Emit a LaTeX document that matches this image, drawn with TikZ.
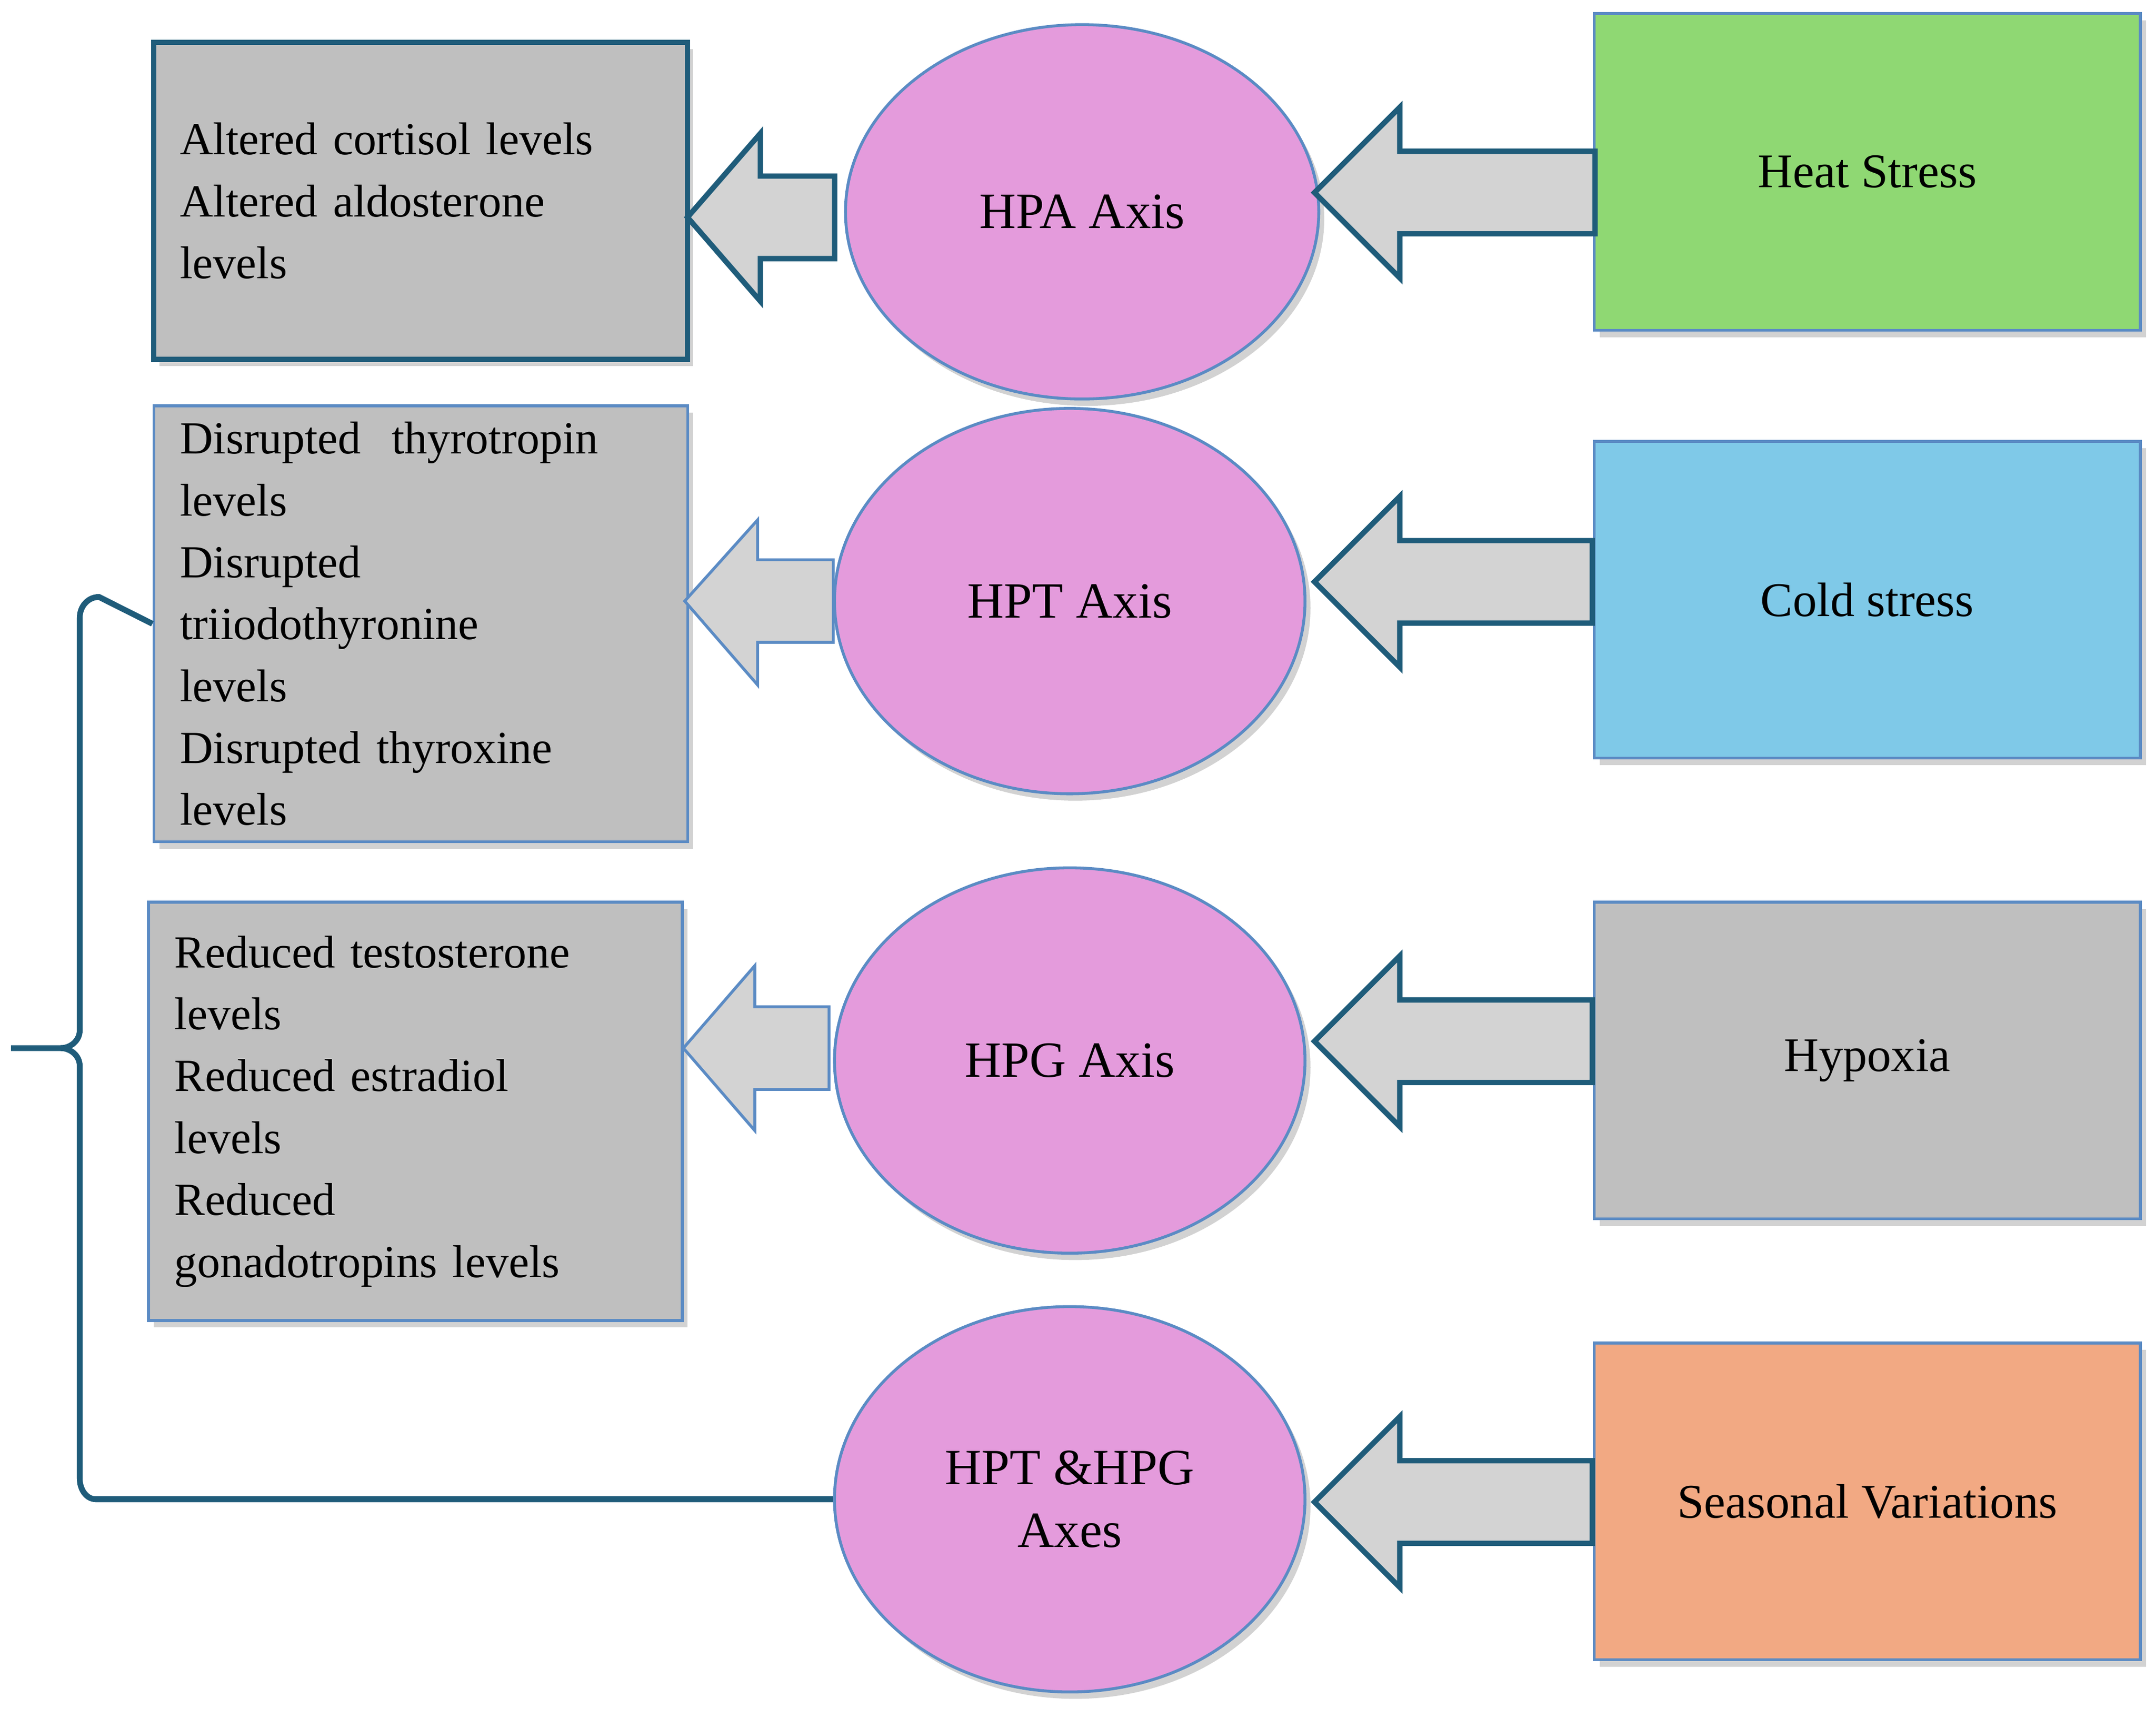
\documentclass[tikz,border=0pt]{standalone}
\usepackage{fontspec}
\setmainfont{Liberation Serif}
\usetikzlibrary{shadows,shapes.geometric}
\definecolor{edge}{HTML}{1F5C7A}
\definecolor{bl}{HTML}{5B8BC4}
\definecolor{boxg}{HTML}{BFBFBF}
\definecolor{arr}{HTML}{D3D3D3}
\definecolor{pink}{HTML}{E49BDC}
\definecolor{green}{HTML}{8FD873}
\definecolor{cyan}{HTML}{7FC9E8}
\definecolor{orng}{HTML}{F2A983}
\begin{document}
\begin{tikzpicture}[x=0.01cm,y=-0.01cm,
  sh/.style={drop shadow={shadow xshift=0.04cm,shadow yshift=-0.05cm,fill=black!35,opacity=0.5}},
  lbox/.style={draw=bl,line width=0.6pt,fill=boxg,sh,minimum width=3.88cm,text width=3.5cm,inner xsep=0.19cm,align=left,font=\fontsize{9.5}{12.8}\selectfont},
  rbox/.style={draw=bl,line width=0.6pt,sh,minimum width=3.97cm,minimum height=2.3cm,font=\fontsize{10}{12.8}\selectfont},
  ell/.style={ellipse,draw=bl,line width=0.6pt,fill=pink,sh,minimum width=3.42cm,minimum height=2.8cm,align=center,font=\fontsize{10.5}{13}\selectfont},
  barr/.style={draw=edge,line width=1.1pt,fill=arr,line join=miter}]
\useasboundingbox (0,0) rectangle (1568,1249);
% left boxes
\node[lbox,draw=edge,line width=1.1pt,minimum height=2.3cm] (o1) at (306,146) {Altered cortisol levels\\Altered aldosterone\\levels};
\node[lbox,minimum height=3.13cm] (o2) at (306,453.5) {Disrupted\ \ thyrotropin\\levels\\Disrupted\\triiodothyronine\\levels\\Disrupted thyroxine\\levels};
\node[lbox,minimum height=3.04cm] (o3) at (302,808) {Reduced testosterone\\levels\\Reduced estradiol\\levels\\Reduced\\gonadotropins levels};
% ellipses
\node[ell,minimum width=3.44cm,minimum height=2.72cm] (e1) at (787,154) {HPA Axis};
\node[ell] (e2) at (778,437) {HPT Axis};
\node[ell] (e3) at (778,771) {HPG Axis};
\node[ell] (e4) at (778,1090) {HPT \&HPG\\Axes};
% right boxes
\node[rbox,fill=green] (r1) at (1358,125) {Heat Stress};
\node[rbox,fill=cyan] (r2) at (1358,436) {Cold stress};
\node[rbox,fill=boxg] (r3) at (1358,771) {Hypoxia};
\node[rbox,fill=orng] (r4) at (1358,1091.5) {Seasonal Variations};
% block arrows right->ellipse
\foreach \y/\t in {140/1160,423/1158,757/1158,1092/1158}{
  \draw[barr] (\t,\y-30) -- (\t,\y+30) -- (1018,\y+30) -- (1018,\y+62) -- (956,\y) -- (1018,\y-62) -- (1018,\y-30) -- cycle;}
% block arrows ellipse->left box
\draw[barr] (607,128) -- (607,188) -- (553,188) -- (553,219) -- (500,158) -- (553,97) -- (553,128) -- cycle;
\draw[draw=bl,line width=0.6pt,fill=arr] (606,407) -- (606,467) -- (551,467) -- (551,498) -- (498,437) -- (551,378) -- (551,407) -- cycle;
\draw[draw=bl,line width=0.6pt,fill=arr] (603,732) -- (603,792) -- (549,792) -- (549,822) -- (497,762) -- (549,702) -- (549,732) -- cycle;
% brace
\draw[edge,line width=1.2pt] (e4.west) -- (70,1090) to[out=180,in=-90] (58,1075) -- (58,775) to[out=90,in=0] (44,762) -- (8,762);
\draw[edge,line width=1.2pt] (44,762) to[out=0,in=-90] (58,749) -- (58,449) to[out=90,in=180] (72,434) -- (o2.west);
\end{tikzpicture}
\end{document}
